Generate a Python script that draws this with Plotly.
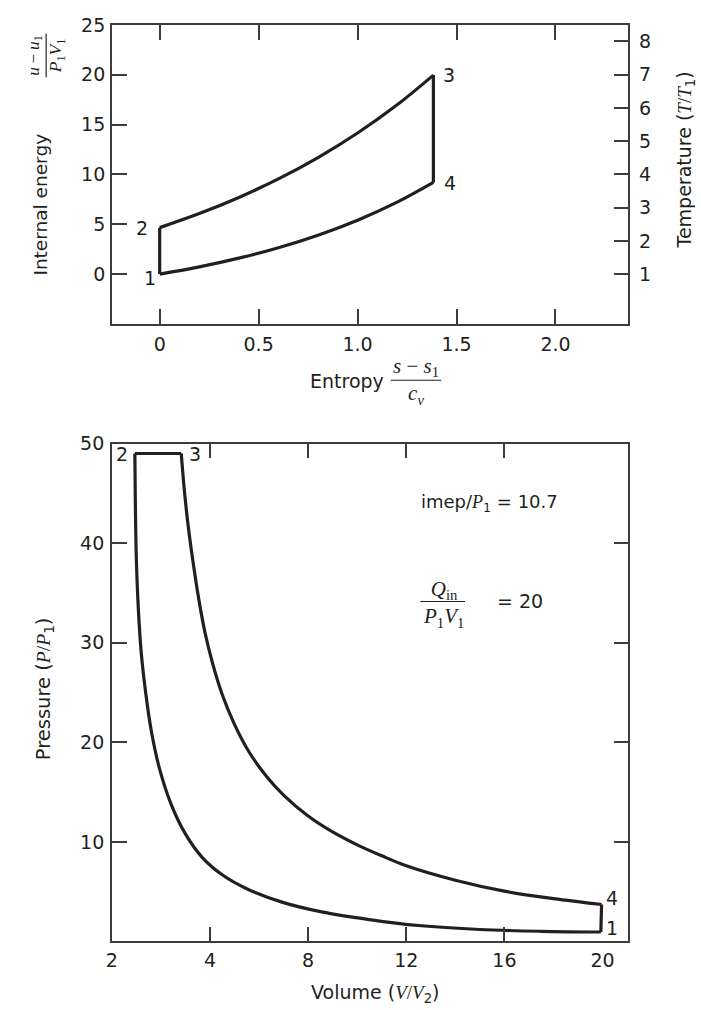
import plotly.graph_objects as go

W, H = 701, 1010
INK = "#231f20"
AX = "#3c3c3c"
SANS = "DejaVu Sans"
SERIF = "Liberation Serif"

# ---------------- Top panel: internal energy vs entropy ----------------
s_23 = [0, 0.2, 0.4, 0.6, 0.8, 1.0, 1.2, 1.383]
u_23 = [4.66, 6.07, 7.69, 9.55, 11.69, 14.15, 16.98, 19.96]
s_14 = [0, 0.2, 0.4, 0.6, 0.8, 1.0, 1.2, 1.383]
u_14 = [0, 0.727, 1.6, 2.646, 3.9, 5.41, 7.22, 9.2]
s_ticks = [0, 0.5, 1.0, 1.5, 2.0]
s_ticktext = ["0", "0.5", "1.0", "1.5", "2.0"]
u_ticks = [0, 5, 10, 15, 20, 25]
T_ticks = [1, 2, 3, 4, 5, 6, 7, 8]

# ---------------- Bottom panel: pressure vs volume ----------------
V_21 = [0.94, 0.96, 1.0, 1.08, 1.2, 1.38, 1.62, 1.95, 2.4, 3.0, 3.7, 4.5, 5.5,
        7.0, 8.5, 10.5, 12.5, 15, 17.5, 19.93]
P_21 = [49, 44, 38.5, 33.5, 29, 25, 21, 17.3, 13.9, 10.8, 8.4, 6.7, 5.3,
        3.9, 3.0, 2.2, 1.6, 1.2, 1.02, 0.95]
V_34 = [2.83, 2.95, 3.1, 3.3, 3.55, 3.8, 4.1, 4.5, 5.0, 5.6, 6.3, 7.0, 8.0, 9.0,
        10, 11, 12, 14, 16, 18, 19.96]
P_34 = [49, 45.5, 42, 38.3, 34.3, 31, 28, 24.8, 21.8, 19.0, 16.6, 14.7, 12.6, 11.0,
        9.7, 8.6, 7.6, 6.15, 5.05, 4.3, 3.71]
V_ticks = [0, 4, 8, 12, 16, 20]
V_ticktext = ["2", "4", "8", "12", "16", "20"]
V_tickmarks = [4, 8, 12, 16]
P_ticks = [10, 20, 30, 40, 50]


def px(x):
    return x / W


def py(y):
    return 1 - y / H


XDOM = [px(106.7), px(627.7)]
TOP_Y = [py(316.4), py(14)]
BOT_Y = [py(940.7), py(437.3)]

fig = go.Figure()
LW = 3.2


def seg(x, y, xa, ya, shape="linear"):
    fig.add_trace(go.Scatter(x=x, y=y, xaxis=xa, yaxis=ya, mode="lines",
                             line=dict(color=INK, width=LW, shape=shape),
                             hoverinfo="skip", showlegend=False))


# top cycle
seg([s_14[0], s_23[0]], [u_14[0], u_23[0]], "x", "y")
seg(s_23, u_23, "x", "y", "spline")
seg([s_23[-1], s_14[-1]], [u_23[-1], u_14[-1]], "x", "y")
seg(s_14, u_14, "x", "y", "spline")
fig.add_trace(go.Scatter(x=[None], y=[None], xaxis="x", yaxis="y3", mode="lines",
                         showlegend=False, hoverinfo="skip"))

# bottom cycle
seg(V_21, P_21, "x2", "y2", "spline")
seg([V_21[0], V_34[0]], [P_21[0], P_34[0]], "x2", "y2")
seg(V_34, P_34, "x2", "y2", "spline")
seg([V_34[-1], V_21[-1]], [P_34[-1], P_21[-1]], "x2", "y2")
fig.add_trace(go.Scatter(x=[None], y=[None], xaxis="x3", yaxis="y2", mode="lines",
                         showlegend=False, hoverinfo="skip"))

tickfont = dict(family=SANS, size=19, color=INK)
common = dict(showline=True, linecolor=AX, linewidth=1.5, ticks="inside", ticklen=15,
              tickwidth=1.5, tickcolor=AX, showgrid=False, zeroline=False,
              tickfont=tickfont, fixedrange=True)

fig.update_layout(
    width=W, height=H, margin=dict(l=0, r=0, t=0, b=0),
    paper_bgcolor="white", plot_bgcolor="white",
    xaxis=dict(domain=XDOM, anchor="y", range=[-0.242, 2.368], tickmode="array",
               tickvals=s_ticks, ticktext=s_ticktext, mirror="ticks",
               ticklabelstandoff=2, **common),
    yaxis=dict(domain=TOP_Y, anchor="x", range=[-5, 25], tickmode="array",
               tickvals=u_ticks, ticklabelstandoff=1, **common),
    yaxis3=dict(overlaying="y", anchor="x", side="right", range=[-0.5, 8.5],
                tickmode="array", tickvals=T_ticks, ticklabelstandoff=5, **common),
    xaxis2=dict(domain=XDOM, anchor="y2", range=[0, 21.05], tickmode="array",
                tickvals=V_tickmarks, showticklabels=False, mirror="ticks", **common),
    xaxis3=dict(overlaying="x2", anchor="y2", side="bottom", range=[0, 21.05],
                tickmode="array", tickvals=V_ticks, ticktext=V_ticktext,
                showline=False, ticks="", showgrid=False, zeroline=False,
                ticklabelstandoff=6, tickfont=tickfont, fixedrange=True),
    yaxis2=dict(domain=BOT_Y, anchor="x2", range=[0, 50], tickmode="array",
                tickvals=P_ticks, mirror="ticks", ticklabelstandoff=2, **common),
)

annotations = []
shapes = []


def ann(text, x, y, size=19, family=SANS, angle=0):
    annotations.append(dict(text=text, x=px(x), y=py(y), xref="paper", yref="paper",
                            showarrow=False, xanchor="center", yanchor="middle",
                            align="center", textangle=angle,
                            font=dict(family=family, size=size, color=INK)))


def bar(x0, y0, x1, y1):
    shapes.append(dict(type="line", xref="paper", yref="paper", x0=px(x0), y0=py(y0),
                       x1=px(x1), y1=py(y1), line=dict(color=INK, width=1.2)))


TS = "\u2009"
# top panel titles
ann("Internal energy", 35, 196, size=18.5, angle=-90)
ann(f"<i>u</i>{TS}−{TS}<i>u</i><sub>1</sub><br><i>P</i><sub>1</sub><i>V</i><sub>1</sub>",
    39.5, 45, size=17.5, family=SERIF, angle=-90)
bar(40.5, 23, 40.5, 67)
ann("Temperature (<span style='font-family:Liberation Serif'><i>T</i>/<i>T</i></span><sub>1</sub>)",
    685, 151, angle=-90)
ann("Entropy", 344, 374)
ann("<i>s</i> − <i>s</i><sub>1</sub><br><i>c</i><sub><i>v</i></sub>", 413.5, 374,
    size=21, family=SERIF)
bar(388, 373.3, 439, 373.3)
ann("1", 145, 270)
ann("2", 137.5, 219)
ann("3", 446.7, 65)
ann("4", 447.5, 174)

# bottom panel titles
ann("Pressure (<span style='font-family:Liberation Serif'><i>P</i>/<i>P</i></span><sub>1</sub>)",
    39, 685, size=19.5, angle=-90)
ann("Volume (<span style='font-family:Liberation Serif'><i>V</i>/<i>V</i></span><sub>2</sub>)",
    373, 993)
ann("2", 117.5, 447.5)
ann("3", 191, 448)
ann("4", 611, 897)
ann("1", 611, 927.5)
ann("imep/<span style='font-family:Liberation Serif'><i>P</i></span><sub>1</sub> = 10.7",
    488, 497, size=18)
ann("<i>Q</i><sub>in</sub><br><i>P</i><sub>1</sub><i>V</i><sub>1</sub>", 441.5, 600,
    size=21, family=SERIF)
bar(418, 597, 463, 597)
ann("= 20", 518, 596)

fig.update_layout(annotations=annotations, shapes=shapes)
fig.write_html("out.html",
               post_script="document.body.style.margin='0';document.body.style.overflow='hidden';")
